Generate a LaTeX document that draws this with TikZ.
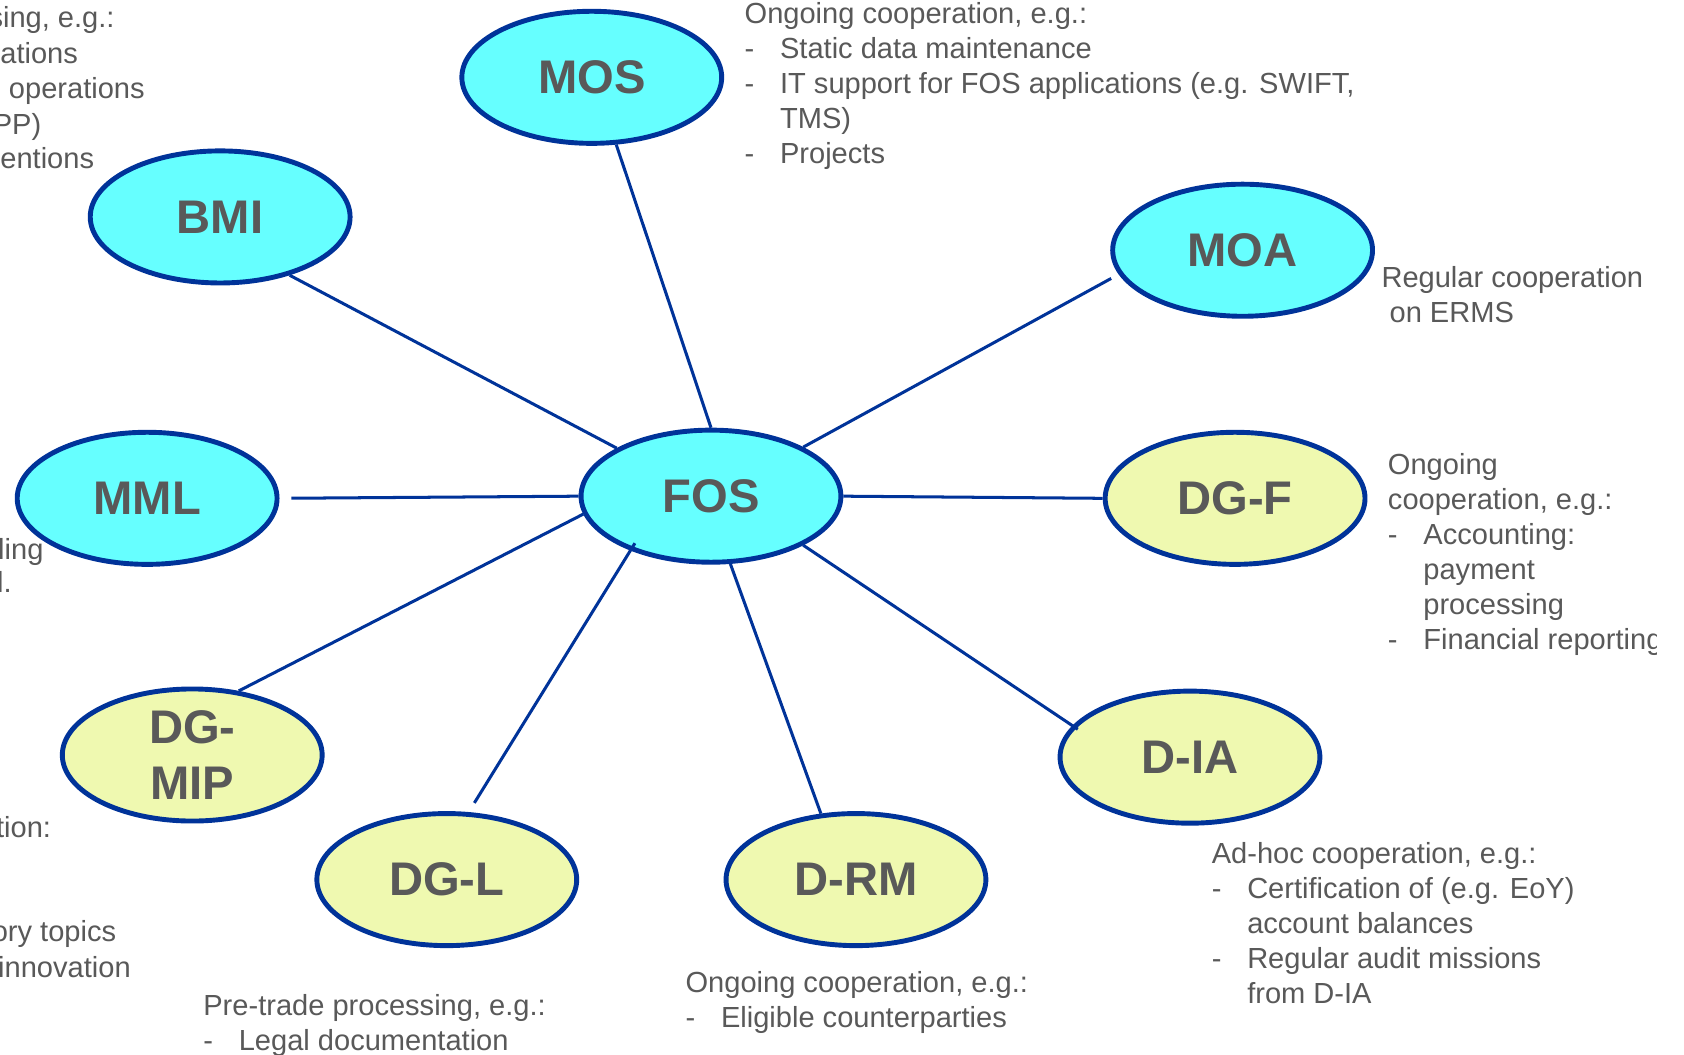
\documentclass[tikz,border=0pt]{standalone}
\usepackage{fontspec}
\setmainfont{Liberation Sans}
\usetikzlibrary{shapes.geometric}
\definecolor{rimcolor}{HTML}{003399}
\definecolor{ecbcolor}{HTML}{66FFFF}
\definecolor{dgcolor}{HTML}{EFF9B0}
\definecolor{txtcolor}{HTML}{595959}
\def\W{1568}
\def\H{982}
% dash and hanging indent of the bullet lines
\newcommand\dashit{\makebox[0.66cm][l]{-}}
\newcommand\hangit{\hspace*{0.66cm}}

\begin{document}
\begin{tikzpicture}[x=0.02cm,y=-0.02cm,
    unit/.style={ellipse,draw=rimcolor,line width=2.6pt,minimum width=4.84cm,
        minimum height=2.46cm,inner sep=0pt,align=center,text=txtcolor,
        font={\fontsize{25}{29.6}\selectfont\bfseries}},
    ecb/.style={unit,fill=ecbcolor},
    dg/.style={unit,fill=dgcolor},
    note/.style={anchor=north west,inner sep=0pt,align=left,text=txtcolor,
        font={\fontsize{15.4}{18.5}\selectfont}},
    part/.style={note,anchor=base west},
    link/.style={draw=rimcolor,line width=1.6pt}]
\useasboundingbox (0,0) rectangle (\W,\H);
\clip (0,0) rectangle (\W,\H);
\fill[white] (0,0) rectangle (\W,\H);
% units, origin top-left, y down
\node[ecb] (fos) at (662,462) {FOS};
\node[ecb] (mos) at (551,72) {MOS};
\node[ecb] (bmi) at (205,202) {BMI};
\node[ecb] (moa) at (1157,233) {MOA};
\node[ecb] (mml) at (137,464) {MML};
\node[dg] (dgf) at (1150,464) {DG-F};
\node[dg] (dgmip) at (179,703) {DG-\\MIP};
\node[dg] (dia) at (1108,705) {D-IA};
\node[dg] (dgl) at (416,819) {DG-L};
\node[dg] (drm) at (797,819) {D-RM};
% spokes, drawn over the units (some stop short, some run in)
\foreach \a/\b/\s/\t in {mos.-70/fos.north/0cm/0cm,bmi.-40/fos.153/0cm/0cm,
        moa.191/fos.28/0.16cm/0cm,mml.east/fos.west/0.22cm/0cm,
        dgf.west/fos.east/0cm/0cm,dgmip.54/fos.188/0cm/0cm,
        dgl.72/fos.214/0.2cm/-0.16cm,drm.118/fos.-74/0cm/0cm,
        dia.165/fos.-28/-0.12cm/0cm}
    \draw[link,shorten <=\s,shorten >=\t] (\a) -- (\b);
% cooperation notes
\node[note] (mosnote) at (693,2) {Ongoing cooperation, e.g.:\\
    \dashit Static data maintenance\\
    \dashit IT support for FOS applications (e.g. SWIFT,\\
    \hangit TMS)\\
    \dashit Projects};
\node[note] (moanote) at (1286,248) {Regular cooperation\\\ on ERMS};
\begin{scope}
    % text box of the DG-F note is cut short on the right
    \clip (1280,400) rectangle (1542,630);
    \node[note] (dgfnote) at (1292,422) {Ongoing\\cooperation, e.g.:\\
        \dashit Accounting:\\\hangit payment\\\hangit processing\\
        \dashit Financial reporting};
\end{scope}
\node[note] (dianote) at (1128,784) {Ad-hoc cooperation, e.g.:\\
    \dashit Certification of (e.g. EoY)\\\hangit account balances\\
    \dashit Regular audit missions\\\hangit from D-IA};
\node[note] (drmnote) at (638,904) {Ongoing cooperation, e.g.:\\
    \dashit Eligible counterparties};
\node[note] (dglnote) at (189,926) {Pre-trade processing, e.g.:\\
    \dashit Legal documentation};
% notes cut by the left edge
\node[part] (bmia) at (-11,26) {sing, e.g.:};
\node[part] (bmib) at (0,59) {ations};
\node[part] (bmic) at (8,92) {operations};
\node[part] (bmid) at (-7,125) {PP)};
\node[part] (bmie) at (0,157) {entions};
\node[part] (mmla) at (-2,521) {ling};
\node[part] (mmlb) at (-3,552) {l.};
\node[part] (dgmipa) at (-4,780) {tion:};
\node[part] (dgmipb) at (-8,877) {ory topics};
\node[part] (dgmipc) at (-2,910) {innovation};
\end{tikzpicture}
\end{document}
